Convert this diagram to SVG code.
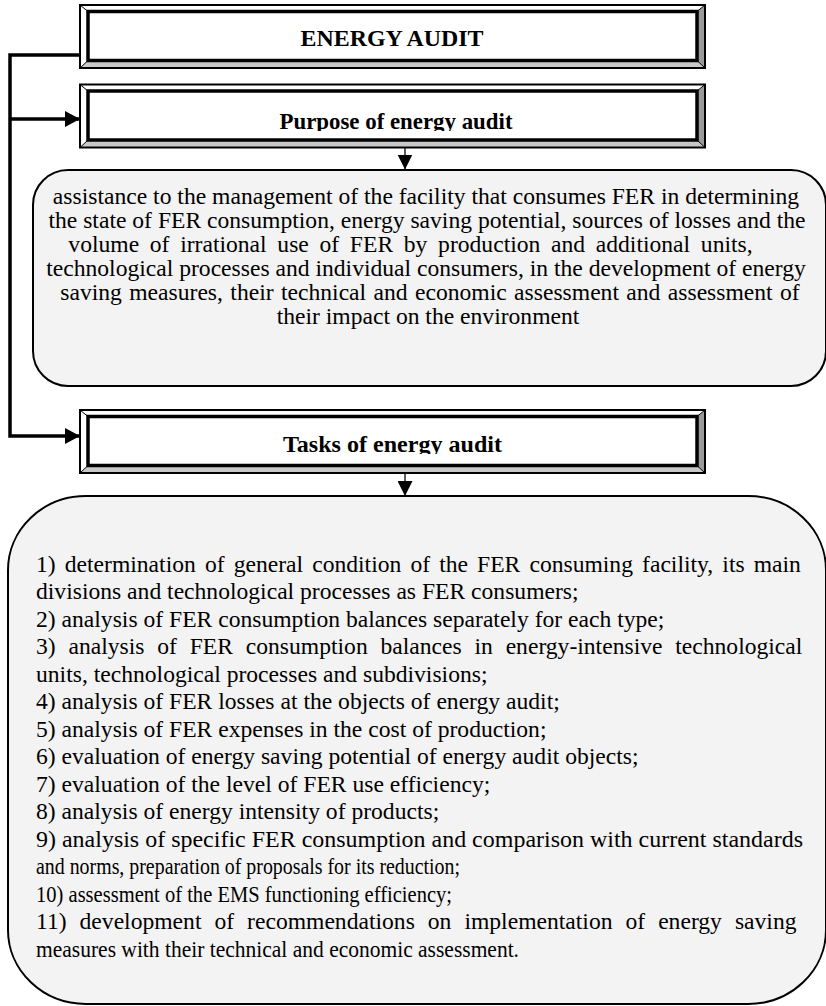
<svg xmlns="http://www.w3.org/2000/svg" xmlns:xlink="http://www.w3.org/1999/xlink" width="826" height="1006" viewBox="0 0 826 1006">
  <style>
    .title { font-family: "Liberation Serif", "Times New Roman", serif; font-weight: bold; font-size: 23px; fill: #000; text-anchor: middle; }
    .body { font-family: "Liberation Serif", "Times New Roman", serif; font-size: 23.6px; fill: #000; }
    .center { text-anchor: middle; }
    .panel { fill: #f3f3f3; stroke: #000; stroke-width: 2; }
    .link { fill: none; stroke: #000; stroke-width: 3.5; }
    .drop { fill: none; stroke: #000; stroke-width: 1.3; }
  </style>
  <defs>
    <!-- bevelled heading frame: 625 x 63 -->
    <symbol id="bevel" overflow="visible">
      <rect x="0" y="0" width="625" height="63" fill="#fff"/>
      <polygon points="0,0 625,0 617,6.5 8,6.5" fill="#fff"/>
      <polygon points="0,0 8,6.5 8,55.5 0,63" fill="#fff"/>
      <polygon points="0,63 8,55.5 617,55.5 625,63" fill="#c8c8c8"/>
      <polygon points="625,0 617,6.5 617,55.5 625,63" fill="#9a9a9a"/>
      <g stroke="#000" stroke-width="1">
        <line x1="0" y1="0" x2="8" y2="6.5"/>
        <line x1="625" y1="0" x2="617" y2="6.5"/>
        <line x1="0" y1="63" x2="8" y2="55.5"/>
        <line x1="625" y1="63" x2="617" y2="55.5"/>
      </g>
      <rect x="0" y="0" width="625" height="63" fill="none" stroke="#000" stroke-width="2"/>
      <rect x="8" y="6.5" width="609" height="49" fill="#fff" stroke="#000" stroke-width="3.5"/>
    </symbol>
    <marker id="headR" viewBox="0 0 15 16" refX="15" refY="8" markerWidth="15" markerHeight="16" markerUnits="userSpaceOnUse" orient="auto">
      <polygon points="0,0 15,8 0,16" fill="#000"/>
    </marker>
    <marker id="headD" viewBox="0 0 15 15" refX="15" refY="7.5" markerWidth="15" markerHeight="15" markerUnits="userSpaceOnUse" orient="auto">
      <polygon points="0,0 15,7.5 0,15" fill="#000"/>
    </marker>
    <clipPath id="clipPurpose"><rect x="80" y="80" width="626" height="51"/></clipPath>
    <clipPath id="clipTasks"><rect x="80" y="405" width="626" height="49"/></clipPath>
  </defs>

  <!-- connectors -->
  <g id="connectors">
    <polyline class="link" points="80,55 10,55 10,436 80,436" marker-end="url(#headR)"/>
    <line class="link" x1="10" y1="119" x2="80" y2="119" marker-end="url(#headR)"/>
    <line class="drop" x1="405" y1="147" x2="405" y2="169.5" marker-end="url(#headD)"/>
    <line class="drop" x1="405" y1="474" x2="405" y2="496" marker-end="url(#headD)"/>
  </g>

  <g id="energy-audit">
    <use xlink:href="#bevel" href="#bevel" x="80" y="5"/>
    <text class="title" x="392" y="46" textLength="183" lengthAdjust="spacingAndGlyphs">ENERGY AUDIT</text>
  </g>

  <g id="purpose">
    <use xlink:href="#bevel" href="#bevel" x="80" y="84.5"/>
    <text class="title" x="396" y="128.5" textLength="233" lengthAdjust="spacingAndGlyphs" clip-path="url(#clipPurpose)">Purpose of energy audit</text>
  </g>

  <g id="purpose-text">
    <rect class="panel" x="33" y="170" width="793" height="216" rx="35" ry="35"/>
    <text class="body center" x="426" y="204">assistance to the management of the facility that consumes FER in determining</text>
    <text class="body center" x="427" y="228">the state of FER consumption, energy saving potential, sources of losses and the</text>
    <text class="body center" x="410.5" y="252" word-spacing="4.8">volume of irrational use of FER by production and additional units,</text>
    <text class="body center" x="426" y="276">technological processes and individual consumers, in the development of energy</text>
    <text class="body center" x="430" y="300" word-spacing="1.5">saving measures, their technical and economic assessment and assessment of</text>
    <text class="body center" x="428" y="324">their impact on the environment</text>
  </g>

  <g id="tasks">
    <use xlink:href="#bevel" href="#bevel" x="80" y="410"/>
    <text class="title" x="392.5" y="451.5" textLength="219" lengthAdjust="spacingAndGlyphs" clip-path="url(#clipTasks)">Tasks of energy audit</text>
  </g>

  <g id="tasks-list">
    <rect class="panel" x="8" y="496" width="818" height="508" rx="78" ry="74"/>
    <text class="body" x="36" y="571.5" word-spacing="3.2">1) determination of general condition of the FER consuming facility, its main</text>
    <text class="body" x="36" y="599">divisions and technological processes as FER consumers;</text>
    <text class="body" x="36" y="626.5">2) analysis of FER consumption balances separately for each type;</text>
    <text class="body" x="36" y="654" word-spacing="6.9">3) analysis of FER consumption balances in energy-intensive technological</text>
    <text class="body" x="36" y="681.5">units, technological processes and subdivisions;</text>
    <text class="body" x="36" y="709">4) analysis of FER losses at the objects of energy audit;</text>
    <text class="body" x="36" y="736.5">5) analysis of FER expenses in the cost of production;</text>
    <text class="body" x="36" y="764">6) evaluation of energy saving potential of energy audit objects;</text>
    <text class="body" x="36" y="791.5">7) evaluation of the level of FER use efficiency;</text>
    <text class="body" x="36" y="819">8) analysis of energy intensity of products;</text>
    <text class="body" x="36" y="846.5" textLength="767" lengthAdjust="spacingAndGlyphs">9) analysis of specific FER consumption and comparison with current standards</text>
    <text class="body" x="36" y="874" textLength="424" lengthAdjust="spacingAndGlyphs">and norms, preparation of proposals for its reduction;</text>
    <text class="body" x="36" y="901.5" textLength="416" lengthAdjust="spacingAndGlyphs">10) assessment of the EMS functioning efficiency;</text>
    <text class="body" x="36" y="929" word-spacing="7.1">11) development of recommendations on implementation of energy saving</text>
    <text class="body" x="36" y="956.5" textLength="483" lengthAdjust="spacingAndGlyphs">measures with their technical and economic assessment.</text>
  </g>
</svg>
